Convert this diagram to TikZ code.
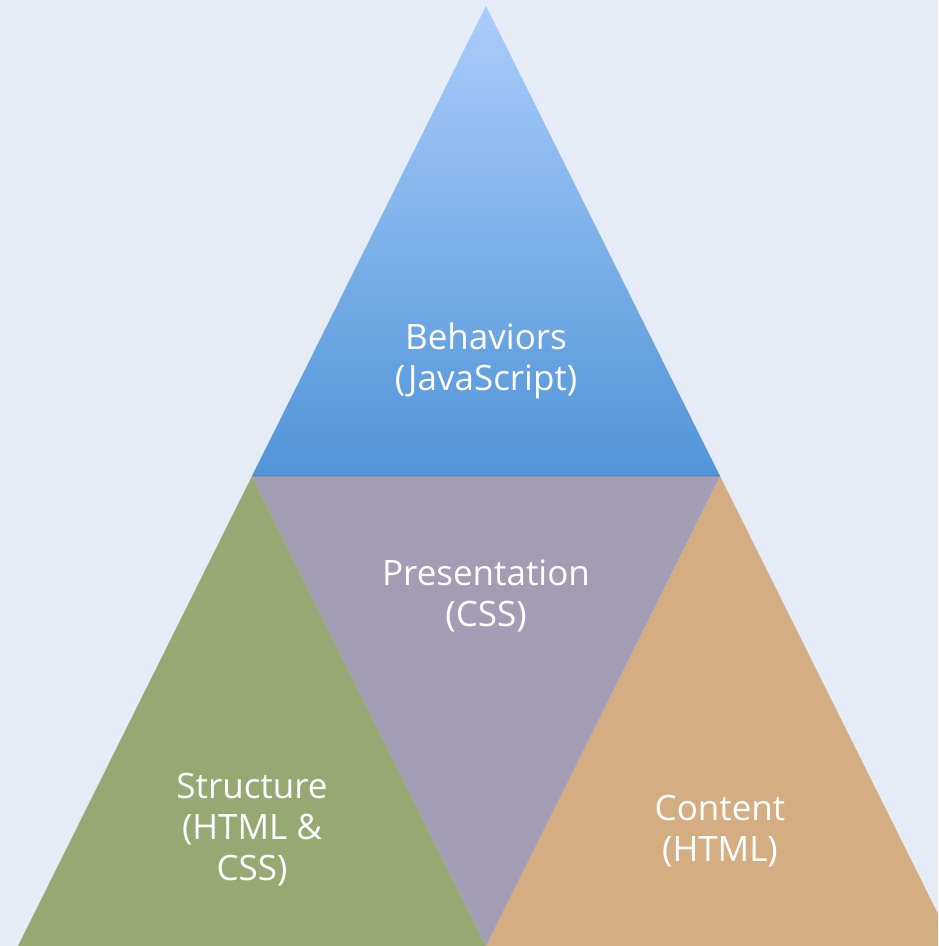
\documentclass[tikz,border=0pt]{standalone}
\usepackage{fontspec}
\setmainfont{Open Sans}
\definecolor{pgback}{HTML}{E5ECF6}
\definecolor{pgtoptop}{HTML}{AACDFB}
\definecolor{pgtopbot}{HTML}{5094D8}
\definecolor{pgmid}{HTML}{A29DB5}
\definecolor{pgleft}{HTML}{97A872}
\definecolor{pgright}{HTML}{D4AE82}

\begin{document}
\begin{tikzpicture}[x=1pt, y=-1pt,
    every node/.style={font=\fontsize{35}{41}\selectfont, text=white, align=center},
    layer/.style={draw=none}]
    % Background
    \fill[pgback] (0,0) rectangle (938,946);
    \useasboundingbox (0,0) rectangle (938,946);
    \clip (0,0) rectangle (938,946);

    % Corner points
    \coordinate (apex) at (486,6);
    \coordinate (midl) at (252,476);
    \coordinate (midr) at (720,476);
    \coordinate (botl) at (18,946);
    \coordinate (botm) at (486,946);
    \coordinate (botr) at (954,946);

    % Layers
    \shade[layer, top color=pgtoptop, bottom color=pgtopbot] (apex) -- (midr) -- (midl) -- cycle;
    \fill[layer, pgleft] (midl) -- (botm) -- (botl) -- cycle;
    \fill[layer, pgright] (midr) -- (botr) -- (botm) -- cycle;
    \fill[layer, pgmid] (midl) -- (midr) -- (botm) -- cycle;
    \draw[black, opacity=0.08, line width=2pt] (midl) -- (midr);

    % Labels
    \node (behaviors) at (486,361) {Behaviors\\(JavaScript)};
    \node (presentation) at (486,596) {Presentation\\(CSS)};
    \node (structure) at (252,830) {Structure\\(HTML \&\\CSS)};
    \node (content) at (720,831) {Content\\(HTML)};
\end{tikzpicture}
\end{document}
